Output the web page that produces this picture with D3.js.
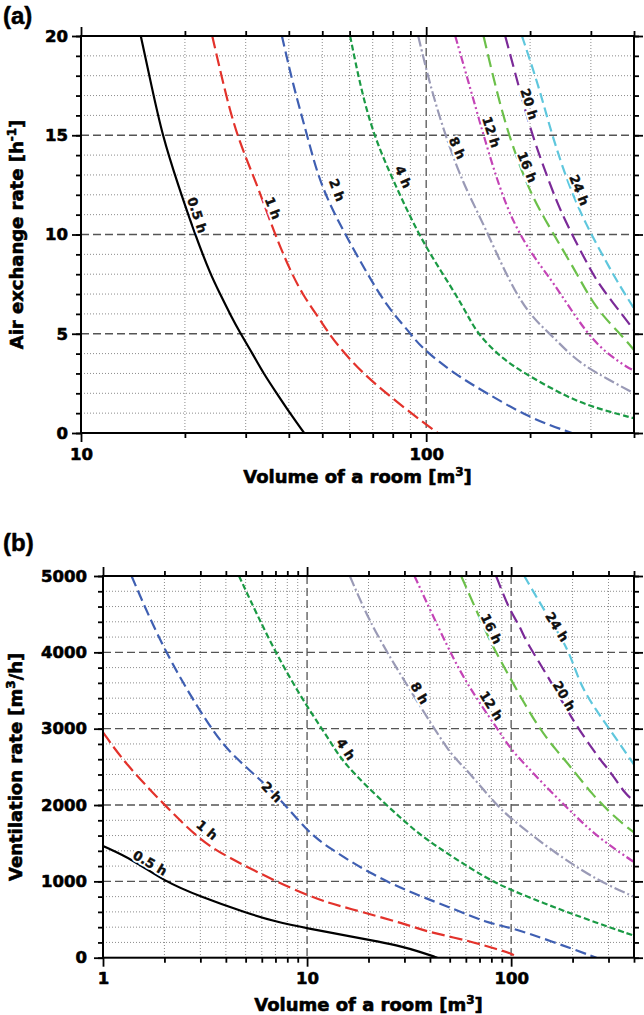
<!DOCTYPE html>
<html><head><meta charset="utf-8">
<script src="https://cdn.jsdelivr.net/npm/d3@7/dist/d3.min.js"></script>
<style>body{margin:0;background:#fff}svg{display:block}</style>
</head><body>
<svg id="c" width="644" height="1015"></svg>
<script>
// ---------------- DATA ----------------
const seriesNames = ["0.5 h","1 h","2 h","4 h","8 h","12 h","16 h","20 h","24 h"];

// Panel (a): [room volume m3, air exchange rate h-1]
const a05h = [[14.9,20],[16.0,17.5],[17.2,15],[19.1,12.5],[21.4,10],[23.7,8],[25.3,7],[27.0,6],[29.0,5],[31.4,4],[33.8,3],[36.9,2],[40.3,1],[44.3,0]];
const a1h  = [[24.0,20],[25.9,17.5],[28.2,15],[32.4,12.5],[36.1,10.2],[40.3,8.2],[44.1,6.9],[49.3,5.7],[52.3,5],[57.4,4.1],[65.6,3],[79.6,1.76],[96.1,0.65],[108,0]];
const a2h  = [[38.2,20],[41.2,17.5],[45.2,15],[49.3,12.5],[57.4,10.2],[66.6,8.2],[77.1,6.35],[89.9,5.04],[96.1,4.35],[120,3],[150,2],[200,0.74],[264.4,0]];
const a4h  = [[60.2,20],[64.4,17.5],[70.3,15],[81.3,12.5],[95,10],[109.8,8.21],[128.3,6.36],[140,5],[167.5,3.68],[200,2.84],[250,1.91],[298.8,1.33],[400,0.74]];
const a8h  = [[94.8,20],[102.7,17.5],[113.5,15],[128.3,12.5],[146.6,10.56],[187.3,6.36],[228.8,5],[267.3,3.76],[312.5,3],[400,2]];
const a12h = [[121.4,20],[133.5,17.5],[146.6,15],[162,12.5],[179.1,10.56],[202.5,9],[223.9,8],[244.6,7.04],[292.3,5],[334.1,4],[385.9,3.26],[400,3.15]];
const a16h = [[146.6,20],[158.5,17.5],[173.2,15],[195.8,12.5],[216.5,10.98],[273.4,8.05],[309,6.28],[365,5],[400,4.18]];
const a20h = [[169.4,20],[185.2,17.5],[202.5,15],[228.8,12.5],[247.4,10.98],[302.2,8.05],[323.1,7.29],[373.2,5.86],[400,5.19]];
const a24h = [[189.4,20],[211.7,17.5],[231.4,15],[258.5,12.5],[289,10.56],[334,8.55],[365,7.37],[400,6.28]];

// Panel (b): [room volume m3, ventilation rate m3/h]
const b05h = [[1,1463],[1.41,1280],[2,1000],[3,800],[5,590],[7,472],[10,385],[16.7,275],[22,215],[29.4,144],[35.6,79],[43.5,0]];
const b1h  = [[1,2953],[1.28,2547],[2,2000],[2.98,1542],[4.03,1323],[7.08,996],[10,821],[12.9,712],[15,668],[31.7,428],[36.9,354],[62.6,220],[87.6,101],[100,57],[107.6,0]];
const b2h  = [[1.38,5000],[2,4000],[3.36,3000],[4.34,2633],[6.81,2197],[10,1651],[12.9,1433],[20.2,1105],[33,840],[53,635],[75.4,460],[100,395],[156,220],[262,0]];
const b4h  = [[4.64,5000],[6.94,4000],[10,3284],[12.9,2851],[15,2547],[24.4,2000],[35.6,1607],[50,1345],[75.4,1040],[100,885],[153.8,685],[232.5,507],[400,288]];
const b8h  = [[16.2,5000],[18.8,4598],[21.8,4249],[28.4,3725],[42,3000],[51.7,2633],[57.9,2524],[84.4,2000],[103,1790],[168,1350],[270,1000],[400,799]];
const b12h = [[33.6,5000],[49.9,4009],[62.5,3529],[84.4,3026],[100,2721],[118.3,2520],[142.6,2284],[207.8,1847],[270,1564],[386,1280],[400,1255]];
const b16h = [[56.9,5000],[78.2,4162],[87.6,3922],[98,3681],[116,3332],[137.4,3005],[165.8,2721],[192.7,2525],[250.4,2131],[326,1826],[400,1640]];
const b20h = [[84.4,5000],[98,4555],[109.7,4358],[118.3,4140],[145.3,3769],[199.9,3114],[245.9,2764],[285.8,2524],[302.3,2459],[364.8,2131],[400,2060]];
const b24h = [[116,5000],[148.1,4511],[192.7,4031],[215.7,3594],[260.2,3245],[313.8,2940],[400,2530]];

// Tick values
const aXMajor = [10,100];
const aXMinor = [20,30,40,50,60,70,80,90,200,300,400];
const aYMajor = [0,5,10,15,20];
const aYMinor = d3.range(0,21,1);
const bXMajor = [1,10,100];
const bXMinor = [2,3,4,5,6,7,8,9,20,30,40,50,60,70,80,90,200,300,400];
const bYMajor = [0,1000,2000,3000,4000,5000];
const bYMinor = d3.range(0,5001,200);

// ---------------- STYLE / LAYOUT ----------------
const FONT = "'DejaVu Sans', Verdana, sans-serif";
const lineStyles = [
  {c:"#000000", d:null},
  {c:"#e3322b", d:"13,5"},
  {c:"#3f5fb2", d:"11,5"},
  {c:"#1a9a44", d:"6,3"},
  {c:"#9a9ab6", d:"11,3,2,3"},
  {c:"#c444b6", d:"8,3,2,3,2,3"},
  {c:"#6cc04a", d:"13,6"},
  {c:"#7b2a98", d:"13,6"},
  {c:"#5fc7dd", d:"10,5"}
];
// label anchors in data coordinates [V, value, rotation]
const aLabelPos = [[21.7,10.98,72],[36.0,11.33,68],[55.2,12.24,69],[85.8,12.9,66],[123,14.36,66],[154.3,15.16,72],[196.3,13.4,68],[198.9,16.57,73],[277.6,12.24,68]];
const bLabelPos = [[1.70,1240,30],[3.23,1673,40],[6.71,2171,46],[15.5,2730,57],[35.6,3467,60],[80,3300,58],[80,4308,64],[182,3428,60],[168,4334,58]];

const svg = d3.select("#c");
svg.append("rect").attr("width",644).attr("height",1015).attr("fill","#fff");

function heavy(sel, w){ return sel.attr("stroke","#000").attr("stroke-width",w).attr("stroke-linejoin","round"); }

function drawPanel(p, id){
  const x = d3.scaleLog().domain(p.xDomain).range([p.left,p.right]);
  const y = d3.scaleLinear().domain(p.yDomain).range([p.bottom,p.top]);
  const g = svg.append("g");
  const [xa,xb] = p.xDomain, [ya,yb] = p.yDomain;
  const inX = v => v>xa && v<xb, inY = v => v>ya && v<yb;

  // dotted minor grid
  g.append("g").selectAll("line").data(p.xMinor.filter(v=>inX(v) && !p.xMajor.includes(v))).join("line")
    .attr("x1",d=>x(d)).attr("x2",d=>x(d)).attr("y1",p.top).attr("y2",p.bottom)
    .attr("stroke","#8c8c8c").attr("stroke-width",1).attr("stroke-dasharray","1,2");
  g.append("g").selectAll("line").data(p.yMinor.filter(v=>inY(v) && !p.yMajor.includes(v))).join("line")
    .attr("y1",d=>y(d)).attr("y2",d=>y(d)).attr("x1",p.left).attr("x2",p.right)
    .attr("stroke","#8c8c8c").attr("stroke-width",1).attr("stroke-dasharray","1,2");
  // dashed major grid
  g.append("g").selectAll("line").data(p.xMajor.filter(inX)).join("line")
    .attr("x1",d=>x(d)).attr("x2",d=>x(d)).attr("y1",p.top).attr("y2",p.bottom)
    .attr("stroke","#555").attr("stroke-width",1.3).attr("stroke-dasharray","8,4");
  g.append("g").selectAll("line").data(p.yMajor.filter(inY)).join("line")
    .attr("y1",d=>y(d)).attr("y2",d=>y(d)).attr("x1",p.left).attr("x2",p.right)
    .attr("stroke","#555").attr("stroke-width",1.3).attr("stroke-dasharray","8,4");

  // curves
  svg.append("clipPath").attr("id","clip"+id).append("rect")
    .attr("x",p.left).attr("y",p.top).attr("width",p.right-p.left).attr("height",p.bottom-p.top);
  const line = d3.line().x(d=>x(d[0])).y(d=>y(d[1])).curve(d3.curveBasis);
  const cg = g.append("g").attr("clip-path",`url(#clip${id})`);
  p.series.forEach((s,i)=>{
    cg.append("path").attr("d",line(s)).attr("fill","none")
      .attr("stroke",lineStyles[i].c).attr("stroke-width",2.2)
      .attr("stroke-dasharray",lineStyles[i].d);
  });
  // labels (white halo, then heavy text)
  p.labels.forEach((l,i)=>{
    const tr = `translate(${x(l[0])},${y(l[1])}) rotate(${l[2]})`;
    g.append("text").attr("transform",tr).attr("text-anchor","middle").attr("dy","0.35em")
      .attr("font-family",FONT).attr("font-weight","bold").attr("font-size",13)
      .attr("fill","#fff").attr("stroke","#fff").attr("stroke-width",4).text(seriesNames[i]);
    heavy(g.append("text").attr("transform",tr).attr("text-anchor","middle").attr("dy","0.35em")
      .attr("font-family",FONT).attr("font-weight","bold").attr("font-size",13)
      .attr("fill","#111"), 0.35).text(seriesNames[i]);
  });

  // axes
  function style(ax){
    ax.select(".domain").remove();
    ax.selectAll(".tick line").attr("stroke","#000").attr("stroke-width",1.8);
    heavy(ax.selectAll("text").attr("font-family",FONT).attr("font-weight","bold")
      .attr("font-size",16.5).attr("fill","#000"), 0.6);
  }
  const fmt = d=>String(d);
  style(g.append("g").attr("transform",`translate(0,${p.bottom})`)
    .call(d3.axisBottom(x).tickValues(p.xMinor).tickSize(5).tickSizeOuter(0).tickFormat("")));
  style(g.append("g").attr("transform",`translate(0,${p.bottom})`)
    .call(d3.axisBottom(x).tickValues(p.xMajor).tickSize(9).tickSizeOuter(0).tickPadding(6).tickFormat(fmt)));
  style(g.append("g").attr("transform",`translate(0,${p.top})`)
    .call(d3.axisTop(x).tickValues(p.xMinor).tickSize(5).tickSizeOuter(0).tickFormat("")));
  style(g.append("g").attr("transform",`translate(0,${p.top})`)
    .call(d3.axisTop(x).tickValues(p.xMajor).tickSize(9).tickSizeOuter(0).tickFormat("")));
  style(g.append("g").attr("transform",`translate(${p.left},0)`)
    .call(d3.axisLeft(y).tickValues(p.yMinor).tickSize(5).tickSizeOuter(0).tickFormat("")));
  style(g.append("g").attr("transform",`translate(${p.left},0)`)
    .call(d3.axisLeft(y).tickValues(p.yMajor).tickSize(9).tickSizeOuter(0).tickPadding(p.yPad).tickFormat(fmt)));
  style(g.append("g").attr("transform",`translate(${p.right},0)`)
    .call(d3.axisRight(y).tickValues(p.yMinor).tickSize(5).tickSizeOuter(0).tickFormat("")));
  style(g.append("g").attr("transform",`translate(${p.right},0)`)
    .call(d3.axisRight(y).tickValues(p.yMajor).tickSize(9).tickSizeOuter(0).tickFormat("")));

  // frame
  g.append("rect").attr("x",p.left).attr("y",p.top).attr("width",p.right-p.left).attr("height",p.bottom-p.top)
    .attr("fill","none").attr("stroke","#000").attr("stroke-width",2);

  // titles
  const xt = heavy(g.append("text").attr("x",(p.left+p.right)/2).attr("y",p.xTitleY)
    .attr("text-anchor","middle").attr("font-family",FONT).attr("font-weight","bold").attr("font-size",18), 0.6);
  xt.append("tspan").text("Volume of a room [m");
  xt.append("tspan").attr("dy",-7).attr("font-size",12).text("3");
  xt.append("tspan").attr("dy",7).text("]");
  const yt = heavy(g.append("text").attr("transform",`translate(${p.yTitleX},${(p.top+p.bottom)/2}) rotate(-90)`)
    .attr("text-anchor","middle").attr("font-family",FONT).attr("font-weight","bold").attr("font-size",18), 0.6);
  yt.append("tspan").text(p.yTitle[0]);
  yt.append("tspan").attr("dy",-7).attr("font-size",12).text(p.yTitle[1]);
  yt.append("tspan").attr("dy",7).text(p.yTitle[2]);

  heavy(svg.append("text").attr("x",3).attr("y",p.tagY).attr("font-family","'Liberation Sans', Arial, sans-serif")
    .attr("font-weight","bold").attr("font-size",24), 0.5).text(p.tag);
}

drawPanel({
  left:81, right:634, top:36, bottom:433,
  xDomain:[10,400], yDomain:[0,20],
  xMajor:aXMajor, xMinor:aXMinor, yMajor:aYMajor, yMinor:aYMinor, yPad:4,
  series:[a05h,a1h,a2h,a4h,a8h,a12h,a16h,a20h,a24h], labels:aLabelPos,
  xTitleY:483, yTitleX:23, yTitle:["Air exchange rate [h","-1","]"],
  tag:"(a)", tagY:24
}, "a");

drawPanel({
  left:103, right:634, top:576, bottom:957.7,
  xDomain:[1,400], yDomain:[0,5000],
  xMajor:bXMajor, xMinor:bXMinor, yMajor:bYMajor, yMinor:bYMinor, yPad:7,
  series:[b05h,b1h,b2h,b4h,b8h,b12h,b16h,b20h,b24h], labels:bLabelPos,
  xTitleY:1011, yTitleX:22, yTitle:["Ventilation rate [m","3","/h]"],
  tag:"(b)", tagY:551
}, "b");
</script>
</body></html>
